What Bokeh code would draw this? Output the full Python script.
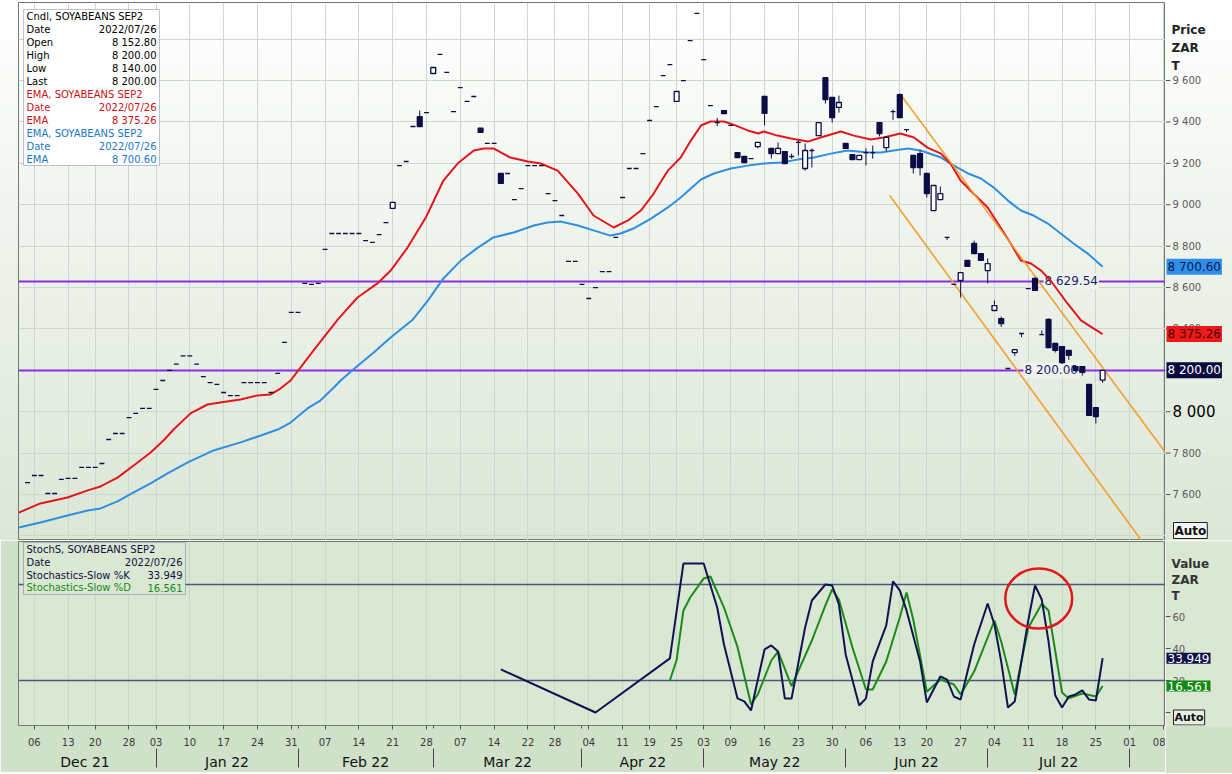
import pandas as pd
from bokeh.plotting import figure
from bokeh.layouts import column, row
from bokeh.models import Range1d, FixedTicker, LinearAxis, Label, BoxAnnotation
from bokeh.core.properties import value
from bokeh.embed import file_html
from bokeh.resources import INLINE

# ---------------- data ----------------
instrument = "SOYABEANS SEP2"
last_date_label = "2022/07/26"
holidays = ["2021-12-16", "2021-12-27", "2022-03-21", "2022-04-15", "2022-04-18",
            "2022-04-27", "2022-05-02", "2022-06-16", "2022-08-09"]
first_candle_day = "2021-12-03"

candle_open = [
    7658, 7692, 7692, 7605, 7605, 7673, 7678, 7678, 7731, 7731,
    7731, 7750, 7866, 7895, 7895, 7972, 7992, 8016, 8016, 8108,
    8151, 8200, 8230, 8270, 8270, 8230, 8170, 8141, 8132, 8093,
    8078, 8078, 8141, 8141, 8141, 8141, 8093, 8185, 8335, 8480,
    8480, 8620, 8615, 8620, 8784, 8861, 8861, 8861, 8861, 8861,
    8827, 8818, 8856, 8914, 8982, 9189, 9209, 9378, 9426, 9445,
    9634, 9726, 9639, 9450, 9566, 9499, 9523, 9370, 9296, 9296,
    9151, 9151, 9025, 9078, 9189, 9189, 9189, 9054, 9020, 8948,
    8726, 8726, 8615, 8547, 8600, 8677, 8677, 8842, 9035, 9175,
    9175, 9247, 9407, 9474, 9624, 9677, 9499, 9600, 9793, 9924,
    9701, 9479, 9397, 9455, 9383, 9252, 9233, 9223, 9281, 9523,
    9272, 9247, 9257, 9233, 9301, 9175, 9262, 9334, 9614, 9518,
    9470, 9296, 9242, 9218, 9252, 9252, 9397, 9276, 9450, 9532,
    9363, 9238, 9247, 9151, 8972, 9025, 8842, 8615, 8634, 8731,
    8813, 8764, 8682, 8489, 8450, 8209, 8286, 8378, 8595, 8644,
    8373, 8446, 8330, 8315, 8296, 8218, 8218, 8132, 8020, 8152.80]
candle_high = [
    7658, 7692, 7692, 7605, 7605, 7673, 7678, 7678, 7731, 7731,
    7731, 7750, 7866, 7895, 7895, 7972, 7992, 8016, 8016, 8108,
    8151, 8200, 8230, 8270, 8270, 8230, 8170, 8141, 8132, 8093,
    8078, 8078, 8141, 8141, 8141, 8141, 8093, 8185, 8335, 8480,
    8480, 8620, 8615, 8620, 8784, 8861, 8861, 8861, 8861, 8861,
    8827, 8818, 8856, 8914, 9011, 9189, 9209, 9378, 9455, 9445,
    9663, 9726, 9639, 9450, 9566, 9499, 9523, 9370, 9296, 9296,
    9151, 9151, 9025, 9078, 9189, 9189, 9189, 9054, 9020, 8948,
    8726, 8726, 8615, 8547, 8600, 8677, 8677, 8842, 9035, 9175,
    9175, 9247, 9407, 9474, 9624, 9677, 9547, 9600, 9793, 9924,
    9701, 9479, 9420, 9455, 9383, 9252, 9233, 9223, 9301, 9523,
    9272, 9301, 9257, 9247, 9310, 9296, 9272, 9400, 9614, 9518,
    9527, 9296, 9242, 9238, 9272, 9286, 9397, 9330, 9460, 9537,
    9363, 9238, 9262, 9151, 9093, 9088, 8842, 8615, 8672, 8731,
    8827, 8764, 8740, 8537, 8460, 8209, 8300, 8378, 8595, 8649,
    8392, 8450, 8330, 8315, 8296, 8225, 8218, 8132, 8020, 8200.00]
candle_low = [
    7658, 7692, 7692, 7605, 7605, 7673, 7678, 7678, 7731, 7731,
    7731, 7750, 7866, 7895, 7895, 7972, 7992, 8016, 8016, 8108,
    8151, 8200, 8230, 8270, 8270, 8230, 8170, 8141, 8132, 8093,
    8078, 8078, 8141, 8141, 8141, 8141, 8093, 8185, 8335, 8480,
    8480, 8620, 8615, 8620, 8784, 8861, 8861, 8861, 8861, 8861,
    8827, 8818, 8856, 8914, 8982, 9189, 9209, 9378, 9378, 9445,
    9634, 9726, 9639, 9450, 9566, 9499, 9523, 9350, 9296, 9296,
    9103, 9151, 9025, 9078, 9189, 9189, 9189, 9054, 9020, 8948,
    8726, 8726, 8615, 8547, 8600, 8677, 8677, 8842, 9035, 9175,
    9175, 9247, 9407, 9474, 9624, 9677, 9499, 9600, 9793, 9924,
    9701, 9479, 9380, 9440, 9383, 9228, 9204, 9223, 9272, 9383,
    9223, 9247, 9199, 9223, 9238, 9165, 9180, 9334, 9489, 9397,
    9445, 9272, 9218, 9218, 9190, 9223, 9330, 9257, 9410, 9421,
    9350, 9151, 9141, 9035, 8972, 9025, 8830, 8615, 8552, 8702,
    8764, 8731, 8620, 8489, 8410, 8209, 8270, 8360, 8595, 8586,
    8373, 8310, 8286, 8230, 8250, 8199, 8175, 7982, 7943, 8140.00]
candle_close = [
    7658, 7692, 7692, 7605, 7605, 7673, 7678, 7678, 7731, 7731,
    7731, 7750, 7866, 7895, 7895, 7972, 7992, 8016, 8016, 8108,
    8151, 8200, 8230, 8270, 8270, 8230, 8170, 8141, 8132, 8093,
    8078, 8078, 8141, 8141, 8141, 8141, 8093, 8185, 8335, 8480,
    8480, 8620, 8615, 8620, 8784, 8861, 8861, 8861, 8861, 8861,
    8827, 8818, 8856, 8914, 9011, 9189, 9209, 9378, 9378, 9445,
    9663, 9726, 9639, 9450, 9566, 9499, 9523, 9350, 9296, 9296,
    9103, 9151, 9025, 9078, 9189, 9189, 9189, 9054, 9020, 8948,
    8726, 8726, 8615, 8547, 8600, 8677, 8677, 8842, 9035, 9175,
    9175, 9247, 9407, 9474, 9624, 9677, 9547, 9600, 9793, 9924,
    9701, 9479, 9397, 9440, 9383, 9228, 9204, 9223, 9301, 9441,
    9247, 9272, 9199, 9233, 9301, 9262, 9262, 9397, 9508, 9421,
    9494, 9272, 9218, 9238, 9252, 9252, 9344, 9325, 9450, 9421,
    9363, 9180, 9180, 9054, 9093, 9054, 8842, 8615, 8672, 8702,
    8764, 8731, 8716, 8513, 8426, 8209, 8300, 8378, 8595, 8586,
    8373, 8310, 8296, 8238, 8272, 8199, 8190, 7982, 7977, 8200.00]

# EMA lines (x = trading-day number, 0 = 2021-12-03)
ema_fast_day = [-1.3, 1.9, 5.9, 8.9, 10.8, 13.3, 15.7, 18.2, 20.1, 21.6, 24.1, 26.6, 28.5, 31.5,
                34.0, 35.9, 37.4, 38.9, 42.3, 45.9, 48.8, 51.9, 53.7, 56.2, 58.9, 61.5, 63.6,
                66.0, 67.5, 68.9, 71.4, 74.0, 75.9, 78.4, 81.4, 83.7, 86.7, 88.8, 90.7, 92.6,
                94.7, 96.6, 98.1, 99.6, 101.0, 103.0, 104.4, 106.5, 108.1, 108.9, 110.9, 112.9,
                115.4, 117.3, 120.3, 122.2, 124.7, 126.6, 129.1, 131.1, 133.1, 135.1, 136.5,
                138.0, 139.9, 142.0, 143.9, 145.4, 146.9, 148.4, 149.9, 151.3, 153.8, 155.8,
                157.7, 159.0]
ema_fast_val = [7513, 7557, 7586, 7620, 7639, 7682, 7740, 7803, 7861, 7914, 7992, 8035, 8045, 8059,
                8079, 8083, 8112, 8151, 8296, 8446, 8552, 8624, 8682, 8793, 8938, 9117, 9199,
                9262, 9272, 9272, 9228, 9209, 9199, 9165, 9054, 8948, 8890, 8924, 8972, 9054,
                9165, 9228, 9310, 9383, 9402, 9402, 9387, 9359, 9344, 9354, 9334, 9320,
                9305, 9325, 9354, 9334, 9315, 9325, 9344, 9325, 9276, 9247, 9199,
                9117, 9054, 8987, 8890, 8813, 8731, 8716, 8682, 8634, 8523, 8441,
                8402, 8375.26]
ema_slow_day = [-1.3, 1.9, 5.9, 8.9, 10.8, 13.3, 15.7, 18.2, 20.7, 23.7, 27.5, 31.5, 34.5, 37.0,
                38.9, 41.4, 43.3, 45.3, 46.3, 48.7, 51.2, 53.7, 57.0, 59.2, 61.5, 64.1, 66.6,
                68.9, 71.9, 74.9, 76.9, 78.8, 81.4, 83.7, 86.2, 87.7, 89.6, 92.2, 94.7, 96.6,
                99.6, 101.5, 104.0, 106.5, 108.9, 111.4, 113.9, 116.3, 118.8, 121.3, 124.3,
                126.2, 128.1, 130.2, 132.1, 135.1, 137.0, 139.1, 141.0, 142.9, 145.0, 146.9,
                148.8, 150.9, 152.8, 154.7, 156.8, 159.0]
ema_slow_val = [7441, 7465, 7499, 7523, 7533, 7567, 7610, 7654, 7702, 7755, 7813, 7852, 7885, 7914,
                7948, 8016, 8054, 8117, 8151, 8219, 8286, 8359, 8446, 8537, 8644, 8731, 8793,
                8842, 8866, 8900, 8914, 8919, 8900, 8876, 8851, 8861, 8885, 8933, 8987, 9035,
                9122, 9151, 9175, 9189, 9199, 9204, 9218, 9228, 9247, 9262, 9252,
                9252, 9262, 9272, 9262, 9228, 9189, 9151, 9127, 9083, 9020, 8972,
                8948, 8909, 8861, 8813, 8764, 8700.60]

# Slow stochastics
stoch_k_day = [70, 84, 95, 97, 100, 102, 103, 105, 106, 107, 109, 110, 111, 112, 113, 115, 116, 118,
               119, 120, 121, 123, 124, 125, 127, 128, 129, 130, 132, 133, 135, 136, 137, 138, 140,
               142, 143, 144, 145, 146, 148, 149, 150, 151, 152, 153, 154, 155, 156, 157, 158, 159]
stoch_k_val = [26.9, 0.0, 33.8, 93.1, 93.1, 65.6, 42.5, 8.8, 6.9, 1.3, 39.4, 41.9, 38.1, 8.8, 8.8,
               53.1, 70.0, 80.0, 79.4, 67.5, 36.3, 4.4, 8.8, 31.9, 54.4, 81.9, 76.3, 63.8, 31.9,
               6.3, 22.5, 20.6, 10.0, 8.1, 42.5, 68.1, 55.0, 31.9, 3.1, 6.9, 57.5, 79.4, 70.6,
               44.4, 10.6, 3.1, 10.0, 11.3, 13.8, 8.1, 7.5, 33.949]
stoch_d_day = [95, 96, 97, 98, 100, 101, 103, 105, 107, 108, 110, 111, 113, 116, 118, 119, 120, 122,
               124, 125, 127, 129, 130, 131, 133, 135, 137, 138, 140, 143, 144, 146, 148, 150, 151,
               153, 154, 156, 158, 159]
stoch_d_val = [20.0, 33.0, 63.8, 71.9, 83.8, 85.0, 65.6, 41.0, 5.0, 11.3, 32.5, 38.0, 16.5, 45.0,
               67.0, 76.9, 70.6, 40.6, 14.4, 14.4, 31.9, 59.4, 75.0, 58.0, 13.0, 20.6, 17.5, 11.3,
               25.6, 57.5, 44.4, 11.3, 53.0, 68.0, 63.8, 12.5, 8.8, 11.9, 10.0, 16.561]
stoch_bands = [80, 20]

# analyst drawings
level_values = [8629.54, 8200.00]
channel_upper_day = [129.0, 168.3]
channel_upper_val = [9537, 7803]
channel_lower_day = [127.5, 168.3]
channel_lower_val = [9045, 7219]
circle_day, circle_val, circle_w, circle_h = 149.55, 71.25, 9.9, 37.5

day_tick_dates = ["2021-12-06", "2021-12-13", "2021-12-20", "2021-12-28", "2022-01-03", "2022-01-10",
                  "2022-01-17", "2022-01-24", "2022-01-31", "2022-02-07", "2022-02-14", "2022-02-21",
                  "2022-02-28", "2022-03-07", "2022-03-14", "2022-03-22", "2022-03-28", "2022-04-04",
                  "2022-04-11", "2022-04-19", "2022-04-25", "2022-05-03", "2022-05-09", "2022-05-16",
                  "2022-05-23", "2022-05-30", "2022-06-06", "2022-06-13", "2022-06-20", "2022-06-27",
                  "2022-07-04", "2022-07-11", "2022-07-18", "2022-07-25", "2022-08-01", "2022-08-08"]
month_labels = ["Dec 21", "Jan 22", "Feb 22", "Mar 22", "Apr 22", "May 22", "Jun 22", "Jul 22"]
price_ticks = [7600, 7800, 8000, 8200, 8400, 8600, 8800, 9000, 9200, 9400, 9600]
price_grid = [7400, 7600, 7800, 8000, 8200, 8400, 8600, 8800, 9000, 9200, 9400, 9600, 9800]
stoch_ticks = [0, 20, 40, 60]

# ---------------- trading calendar ----------------
cal = [d for d in pd.bdate_range("2021-12-01", "2022-08-31") if d.strftime("%Y-%m-%d") not in holidays]
cal_s = [d.strftime("%Y-%m-%d") for d in cal]
i0 = cal_s.index(first_candle_day)
pos = {s: i - i0 for i, s in enumerate(cal_s)}
n = len(candle_open)
candle_x = [pos[cal_s[i0 + k]] for k in range(n)]
day_ticks = [pos[s] for s in day_tick_dates]
day_overrides = {pos[s]: s[-2:] for s in day_tick_dates}
month_first = {}
for s in cal_s:
    month_first.setdefault(s[:7], pos[s])
mstarts = [month_first[k] for k in sorted(month_first)]
month_centers = [(mstarts[k] + mstarts[k + 1]) / 2 for k in range(len(month_labels))]
month_bounds = mstarts[1:len(month_labels) + 1]

def fmt(v, d=2):
    return f"{v:,.{d}f}".replace(",", " ")

# ---------------- geometry / styles ----------------
FONT = "DejaVu Sans"
NAVY = "#0d0d45"
RED = "#e3161b"
BLUE = "#2f8fe0"
PURPLE = "#8b2ee6"
ORANGE = "#f0a030"
GREEN = "#1b8a1b"
UP_GRAD = {"background-image": "linear-gradient(to bottom, #ffffff 0%, #eef3ec 45%, #dce7d7 100%)"}
LO_BG = "#d9e7d3"
BAND = "#cfe1c9"
FRAME_L, FRAME_W, SIDE_W = 18, 1147, 67
UP_TOP, UP_H = 2, 538
LO_TOP, LO_H = 541, 184
X0, X1 = -1.34, 168.3
UY0, UY1 = 7378, 9977
LY0, LY1 = -8.125, 106.875

def sx2x(sx):
    return X0 + (sx - FRAME_L) / FRAME_W * (X1 - X0)

def sy2up(sy):
    return UY1 - (sy - UP_TOP) / UP_H * (UY1 - UY0)

def sy2lo(sy):
    return LY1 - (sy - LO_TOP) / LO_H * (LY1 - LY0)

x_range = Range1d(X0, X1)
up_y = Range1d(UY0, UY1)
lo_y = Range1d(LY0, LY1)

def lab(p, x, y, text, color="#000000", size="10px", align="left"):
    p.add_layout(Label(x=x, y=y, text=text, text_color=color, text_font_size=size, text_align=align,
                       text_baseline="middle", text_font=FONT))

def side_text(p, x, ys, texts, color="#5a5a5a", size="10px", style="normal", bg=None, border=None, pad=0):
    p.text(x=[x] * len(ys), y=ys, text=texts, text_font=value(FONT), text_font_size=size,
           text_color=color, text_font_style=style, text_baseline="middle", text_align="left",
           background_fill_color=bg, border_line_color=border, padding=pad)

# ---------------- upper (price) panel ----------------
up = figure(frame_width=FRAME_W, frame_height=UP_H, x_range=x_range, y_range=up_y,
            x_axis_location=None, y_axis_location=None, toolbar_location=None,
            output_backend="svg", min_border_left=FRAME_L, min_border_right=0,
            min_border_top=UP_TOP, min_border_bottom=0)
up.background_fill_color = None
up.border_fill_color = None
up.styles = UP_GRAD
up.outline_line_color = "#6f7a70"
up.xgrid.ticker = FixedTicker(ticks=day_ticks)
up.ygrid.ticker = FixedTicker(ticks=price_grid)
for g in (up.xgrid, up.ygrid):
    g.grid_line_color = "#cfd5cf"
    g.grid_line_width = 1

up.hspan(y=level_values, line_color=PURPLE, line_width=2)
up.text(x=[sx2x(1043), sx2x(1023)], y=level_values, text=[fmt(v) for v in level_values],
        text_font=value(FONT), text_font_size="12px", text_color="#1b1b70", text_baseline="middle",
        background_fill_color="#eef3ec", padding=1)
up.line(ema_slow_day, ema_slow_val, line_color=BLUE, line_width=2)
up.line(ema_fast_day, ema_fast_val, line_color=RED, line_width=2)
up.line(channel_upper_day, channel_upper_val, line_color=ORANGE, line_width=1.6)
up.line(channel_lower_day, channel_lower_val, line_color=ORANGE, line_width=1.6)

tops = [max(o, c) for o, c in zip(candle_open, candle_close)]
bots = [min(o, c) for o, c in zip(candle_open, candle_close)]
fills = ["#ffffff" if c > o else NAVY for o, c in zip(candle_open, candle_close)]
up.segment(x0=candle_x, y0=candle_low, x1=candle_x, y1=candle_high, line_color=NAVY, line_width=1)
up.vbar(x=candle_x, width=0.72, top=tops, bottom=bots, fill_color=fills, line_color=NAVY, line_width=1.3)

up.add_layout(BoxAnnotation(left=sx2x(23), right=sx2x(159), top=sy2up(9), bottom=sy2up(165),
                            fill_color="#ffffff", fill_alpha=1.0, line_color="#2e3566", line_width=1))
rows = [("Cndl, " + instrument, "", "#000000"),
        ("Date", last_date_label, "#000000"),
        ("Open", fmt(candle_open[-1]), "#000000"),
        ("High", fmt(candle_high[-1]), "#000000"),
        ("Low", fmt(candle_low[-1]), "#000000"),
        ("Last", fmt(candle_close[-1]), "#000000"),
        ("EMA, " + instrument, "", "#cc1111"),
        ("Date", last_date_label, "#cc1111"),
        ("EMA", fmt(ema_fast_val[-1]), "#cc1111"),
        ("EMA, " + instrument, "", "#1a78c8"),
        ("Date", last_date_label, "#1a78c8"),
        ("EMA", fmt(ema_slow_val[-1]), "#1a78c8")]
for k, (lt, rt, col) in enumerate(rows):
    yy = sy2up(15.5 + 13.0 * k)
    lab(up, sx2x(26), yy, lt, col, "10px")
    if rt:
        lab(up, sx2x(156), yy, rt, col, "10px", align="right")

# upper right-hand scale
ups = figure(frame_width=SIDE_W, frame_height=UP_H, x_range=Range1d(0, SIDE_W), y_range=up_y,
             x_axis_location=None, y_axis_location=None, toolbar_location=None,
             output_backend="svg", min_border_left=0, min_border_right=0,
             min_border_top=UP_TOP, min_border_bottom=0)
ups.grid.visible = False
ups.outline_line_color = None
ups.background_fill_color = None
ups.border_fill_color = None
ups.styles = UP_GRAD
ups.segment(x0=[0] * len(price_ticks), y0=price_ticks, x1=[5] * len(price_ticks), y1=price_ticks,
            line_color="#555555", line_width=1)
small_ticks = [t for t in price_ticks if t != 8000]
side_text(ups, 7, small_ticks, [fmt(t, 0) for t in small_ticks])
side_text(ups, 7, [8000], [fmt(8000, 0)], color="#000000", size="15px")
side_text(ups, 6, [sy2up(29), sy2up(47), sy2up(65)], ["Price", "ZAR", "T"], color="#222222",
          size="12px", style="bold")
side_text(ups, 1, [ema_slow_val[-1]], [fmt(ema_slow_val[-1])], color="#0a1a50", size="12px",
          bg="#2d8fe8", pad=1)
side_text(ups, 1, [ema_fast_val[-1]], [fmt(ema_fast_val[-1])], color="#4a0000", size="12px",
          bg="#ee1a1a", pad=1)
side_text(ups, 1, [candle_close[-1]], [fmt(candle_close[-1])], color="#ffffff", size="12px",
          bg="#0a0a40", pad=1)
side_text(ups, 8, [sy2up(530)], ["Auto"], color="#111111", size="12px", style="bold",
          bg="#f3f6f1", border="#222222", pad=1)

# ---------------- lower (stochastics) panel ----------------
lo = figure(frame_width=FRAME_W, frame_height=LO_H, x_range=x_range, y_range=lo_y,
            x_axis_location="below", y_axis_location=None, toolbar_location=None,
            output_backend="svg", min_border_left=FRAME_L, min_border_right=0,
            min_border_top=1, min_border_bottom=0)
lo.background_fill_color = LO_BG
lo.border_fill_color = BAND
lo.outline_line_color = "#6f7a70"
lo.xgrid.ticker = FixedTicker(ticks=day_ticks)
lo.xgrid.grid_line_color = "#cad6c6"
lo.ygrid.grid_line_color = None

ax1 = lo.xaxis[0]
ax1.ticker = FixedTicker(ticks=day_ticks, minor_ticks=month_bounds)
ax1.major_label_overrides = day_overrides
ax1.major_label_text_font = FONT
ax1.major_label_text_font_size = "10px"
ax1.major_label_text_color = "#3a3a3a"
ax1.major_tick_out = 4
ax1.major_tick_in = 0
ax1.minor_tick_out = 3
ax1.minor_tick_in = 0
ax1.major_tick_line_color = "#555555"
ax1.minor_tick_line_color = "#555555"
ax1.axis_line_color = "#6f7a70"
ax1.major_label_standoff = 8

ax2 = LinearAxis(ticker=FixedTicker(ticks=month_centers, minor_ticks=month_bounds),
                 major_label_overrides={c: m for c, m in zip(month_centers, month_labels)})
ax2.major_label_text_font = FONT
ax2.major_label_text_font_size = "14px"
ax2.major_label_text_color = "#111111"
ax2.major_tick_line_color = None
ax2.major_tick_out = 2
ax2.minor_tick_out = 19
ax2.minor_tick_in = 0
ax2.minor_tick_line_color = "#444444"
ax2.axis_line_color = None
ax2.major_label_standoff = -14
lo.add_layout(ax2, "below")

lo.hspan(y=stoch_bands, line_color="#4b5878", line_width=1.5)
lo.line(stoch_d_day, stoch_d_val, line_color=GREEN, line_width=2)
lo.line(stoch_k_day, stoch_k_val, line_color="#0f1450", line_width=2)
lo.ellipse(x=[circle_day], y=[circle_val], width=[circle_w], height=[circle_h],
           fill_color=None, line_color=RED, line_width=2.5)

lo.add_layout(BoxAnnotation(left=sx2x(23), right=sx2x(185), top=sy2lo(542), bottom=sy2lo(594),
                            fill_color=LO_BG, fill_alpha=1.0, line_color="#2e3566", line_width=1))
lrows = [("StochS, " + instrument, "", "#101040"),
         ("Date", last_date_label, "#101040"),
         ("Stochastics-Slow %K", f"{stoch_k_val[-1]:.3f}", "#101040"),
         ("Stochastics-Slow %D", f"{stoch_d_val[-1]:.3f}", "#168a16")]
for k, (lt, rt, col) in enumerate(lrows):
    yy = sy2lo(549 + 12.8 * k)
    lab(lo, sx2x(26), yy, lt, col, "10px")
    if rt:
        lab(lo, sx2x(182), yy, rt, col, "10px", align="right")

# lower right-hand scale
los = figure(frame_width=SIDE_W, frame_height=LO_H, x_range=Range1d(0, SIDE_W), y_range=lo_y,
             x_axis_location=None, y_axis_location=None, toolbar_location=None,
             output_backend="svg", min_border_left=0, min_border_right=0,
             min_border_top=1, min_border_bottom=48)
los.grid.visible = False
los.outline_line_color = None
los.background_fill_color = LO_BG
los.border_fill_color = BAND
los.segment(x0=[0] * len(stoch_ticks), y0=stoch_ticks, x1=[5] * len(stoch_ticks), y1=stoch_ticks,
            line_color="#555555", line_width=1)
shown = [t for t in stoch_ticks if t != 0]
side_text(los, 7, shown, [str(t) for t in shown])
side_text(los, 6, [sy2lo(563), sy2lo(579), sy2lo(595)], ["Value", "ZAR", "T"], color="#333333",
          size="12px", style="bold")
side_text(los, 1, [stoch_k_val[-1]], [f"{stoch_k_val[-1]:.3f}"], color="#ffffff", size="12px",
          bg="#0f0f4a", pad=1)
side_text(los, 1, [stoch_d_val[-1]], [f"{stoch_d_val[-1]:.3f}"], color="#ffffff", size="12px",
          bg="#0e8a0e", pad=1)
side_text(los, 8, [sy2lo(717)], ["Auto"], color="#111111", size="11px", style="bold",
          bg="#e6efe2", border="#222222", pad=1)

layout = row(column(up, lo, spacing=0), column(ups, los, spacing=0), spacing=0)
open("out.html", "w").write(file_html(layout, INLINE))
